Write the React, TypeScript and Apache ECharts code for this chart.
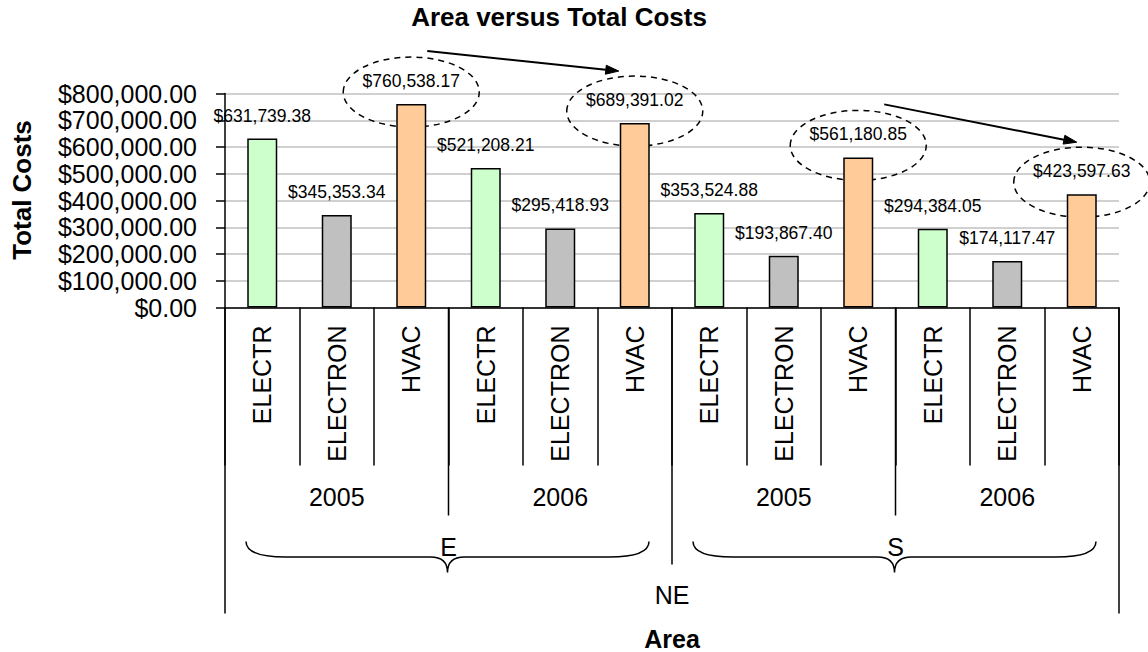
import React, { useEffect, useRef } from "react";
import * as echarts from "echarts";

// Chart data
const trades = [
  "ELECTR", "ELECTRON", "HVAC",
  "ELECTR", "ELECTRON", "HVAC",
  "ELECTR", "ELECTRON", "HVAC",
  "ELECTR", "ELECTRON", "HVAC",
];
const years = ["2005", "2006", "2005", "2006"];
const areas = ["E", "S"];
const regions = ["NE"];
const totalCosts = [
  631739.38, 345353.34, 760538.17,
  521208.21, 295418.93, 689391.02,
  353524.88, 193867.4, 561180.85,
  294384.05, 174117.47, 423597.63,
];
const tradeColors: Record<string, string> = {
  ELECTR: "#ccffcc",
  ELECTRON: "#c0c0c0",
  HVAC: "#ffcc99",
};
const yMin = 0;
const yMax = 800000;
const yStep = 100000;
// HVAC bars circled and linked by trend arrows
const circled = [2, 5, 8, 11];
const trendArrows = [
  { from: 2, to: 5, dxFrom: 16, dxTo: -16 },
  { from: 8, to: 11, dxFrom: 26, dxTo: -5 },
];

const FONT = "'Liberation Sans', Arial, Helvetica, sans-serif";

const money = (v: number) =>
  "$" +
  v.toLocaleString("en-US", { minimumFractionDigits: 2, maximumFractionDigits: 2 });

// Curly brace drawn under each area group
const Brace = echarts.graphic.extendShape({
  shape: { x1: 0, x2: 0, y: 0, h: 0 },
  buildPath(ctx: any, s: any) {
    const cx = (s.x1 + s.x2) / 2;
    const yT = s.y;
    const yM = s.y + s.h / 2;
    const yB = s.y + s.h;
    ctx.moveTo(s.x1, yT);
    ctx.quadraticCurveTo(s.x1, yM, s.x1 + 40, yM);
    ctx.lineTo(cx - 17, yM);
    ctx.quadraticCurveTo(cx, yM, cx, yB);
    ctx.quadraticCurveTo(cx, yM, cx + 17, yM);
    ctx.lineTo(s.x2 - 40, yM);
    ctx.quadraticCurveTo(s.x2, yM, s.x2, yT);
  },
});
echarts.graphic.registerShape("brace", Brace);

export default function App() {
  const ref = useRef<HTMLDivElement>(null);

  useEffect(() => {
    if (!ref.current) return;
    const chart = echarts.init(ref.current, undefined, { renderer: "svg" });

    const option: any = {
      animation: false,
      backgroundColor: "#ffffff",
      grid: { left: 225, right: 29, top: 93.5, bottom: 343 },
      xAxis: [
        {
          type: "category",
          data: trades,
          position: "bottom",
          axisLine: { show: true, lineStyle: { color: "#000", width: 1.5 } },
          axisTick: {
            show: true,
            interval: 0,
            length: 158,
            lineStyle: { color: "#000", width: 1.5 },
          },
          axisLabel: {
            interval: 0,
            rotate: 90,
            margin: 18,
            fontSize: 25,
            fontFamily: FONT,
            color: "#000",
          },
          splitLine: { show: false },
          name: "Area",
          nameLocation: "middle",
          nameGap: 331,
          nameTextStyle: {
            fontSize: 25,
            fontWeight: "bold",
            fontFamily: FONT,
            color: "#000",
            verticalAlign: "middle",
          },
        },
        {
          type: "category",
          data: years,
          position: "bottom",
          offset: 189,
          axisLine: { show: false },
          axisTick: { show: false },
          axisLabel: {
            interval: 0,
            margin: 0,
            fontSize: 25,
            fontFamily: FONT,
            color: "#000",
            verticalAlign: "middle",
          },
        },
        {
          type: "category",
          data: areas,
          position: "bottom",
          offset: 239,
          axisLine: { show: false },
          axisTick: { show: false },
          axisLabel: {
            interval: 0,
            margin: 0,
            fontSize: 25,
            fontFamily: FONT,
            color: "#000",
            verticalAlign: "middle",
          },
        },
        {
          type: "category",
          data: regions,
          position: "bottom",
          offset: 287.5,
          axisLine: { show: false },
          axisTick: { show: false },
          axisLabel: {
            interval: 0,
            margin: 0,
            fontSize: 25,
            fontFamily: FONT,
            color: "#000",
            verticalAlign: "middle",
          },
        },
      ],
      yAxis: {
        type: "value",
        min: yMin,
        max: yMax,
        interval: yStep,
        axisLine: { show: true, lineStyle: { color: "#000", width: 1.5 } },
        axisTick: { show: true, length: 9, lineStyle: { color: "#000", width: 1.5 } },
        axisLabel: {
          margin: 28,
          fontSize: 25,
          fontFamily: FONT,
          color: "#000",
          formatter: (v: number) => money(v),
        },
        splitLine: { show: true, lineStyle: { color: "#c0c0c0", width: 1.5 } },
      },
      series: [
        {
          type: "bar",
          xAxisIndex: 0,
          yAxisIndex: 0,
          barWidth: 30,
          data: totalCosts.map((v, i) => ({
            value: v,
            itemStyle: {
              color: tradeColors[trades[i]],
              borderColor: "#000",
              borderWidth: 1.5,
            },
          })),
          label: {
            show: true,
            position: "top",
            distance: 14,
            fontSize: 17.5,
            fontFamily: FONT,
            color: "#000",
            formatter: (p: any) => money(p.value),
          },
        },
      ],
    };
    chart.setOption(option);

    // Annotation layer positioned through the axes
    const px = (i: number, v: number) =>
      chart.convertToPixel({ xAxisIndex: 0, yAxisIndex: 0 }, [i, v]) as number[];
    const [x0, y0] = px(0, 0);
    const band = px(1, 0)[0] - x0;
    const left = x0 - band / 2;
    const boundary = (k: number) => left + band * k;

    const elements: any[] = [];

    // Title and value-axis name
    elements.push({
      type: "text",
      x: 559,
      y: 17,
      style: {
        text: "Area versus Total Costs",
        font: `bold 26px ${FONT}`,
        fill: "#000",
        textAlign: "center",
        textVerticalAlign: "middle",
      },
    });
    elements.push({
      type: "text",
      x: 22,
      y: 190,
      rotation: Math.PI / 2,
      style: {
        text: "Total Costs",
        font: `bold 26px ${FONT}`,
        fill: "#000",
        textAlign: "center",
        textVerticalAlign: "middle",
      },
    });

    // Longer divider lines between years, areas and the outer frame
    const lineStyle = { stroke: "#000", lineWidth: 1.5 };
    for (let k = 0; k <= trades.length; k += 3) {
      let depth = 208;
      if (k === 0 || k === trades.length) depth = 306;
      else if (k === trades.length / 2) depth = 257;
      elements.push({
        type: "line",
        shape: { x1: boundary(k), y1: y0, x2: boundary(k), y2: y0 + depth },
        style: lineStyle,
      });
    }

    // Braces under each area group
    areas.forEach((_, a) => {
      const gStart = boundary(a * 6);
      const gEnd = boundary(a * 6 + 6);
      elements.push({
        type: "brace",
        shape: { x1: gStart + 21, x2: gEnd - 23, y: y0 + 234, h: 31 },
        style: { stroke: "#000", lineWidth: 1.5, fill: "none" },
      });
    });

    // Dashed ellipses around the HVAC values
    const rx = 68;
    const ry = 35;
    const ellipseCenter = (i: number) => {
      const [cx, top] = px(i, totalCosts[i]);
      return [cx, top - 12];
    };
    circled.forEach((i) => {
      const [cx, cy] = ellipseCenter(i);
      elements.push({
        type: "ellipse",
        shape: { cx, cy, rx, ry },
        style: { stroke: "#000", lineWidth: 1.5, fill: "none", lineDash: [6, 5] },
      });
    });

    // Trend arrows between circled values
    trendArrows.forEach((a) => {
      const [sx, sy] = ellipseCenter(a.from);
      const [ex, ey] = ellipseCenter(a.to);
      const x1 = sx + a.dxFrom;
      const y1 = sy - ry - 6;
      const x2 = ex + a.dxTo;
      const y2 = ey - ry - 5;
      const ang = Math.atan2(y2 - y1, x2 - x1);
      const len = 13;
      const hw = 4.5;
      const bx = x2 - len * Math.cos(ang);
      const by = y2 - len * Math.sin(ang);
      elements.push({
        type: "line",
        shape: { x1, y1, x2: bx, y2: by },
        style: { stroke: "#000", lineWidth: 2 },
      });
      elements.push({
        type: "polygon",
        shape: {
          points: [
            [x2, y2],
            [bx + hw * Math.sin(ang), by - hw * Math.cos(ang)],
            [bx - hw * Math.sin(ang), by + hw * Math.cos(ang)],
          ],
        },
        style: { fill: "#000", stroke: "#000", lineWidth: 1 },
      });
    });

    chart.setOption({ graphic: { elements } });

    return () => {
      chart.dispose();
    };
  }, []);

  return (
    <div
      ref={ref}
      style={{ position: "absolute", left: 0, top: 0, width: 1148, height: 652 }}
    />
  );
}
